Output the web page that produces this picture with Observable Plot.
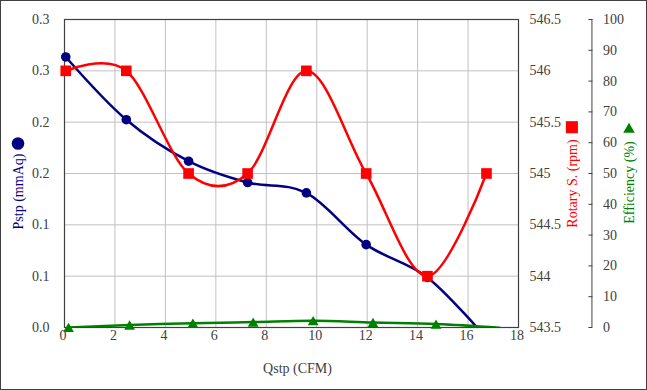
<!DOCTYPE html>
<html>
<head>
<meta charset="utf-8">
<script src="https://cdn.jsdelivr.net/npm/d3@7"></script>
<script src="https://cdn.jsdelivr.net/npm/@observablehq/plot@0.6"></script>
<style>
  html, body { margin: 0; padding: 0; background: #fff; }
  #chart { width: 647px; height: 390px; }
  #chart svg text { font-family: "Liberation Serif", "DejaVu Serif", serif; font-variant-numeric: normal; }
</style>
</head>
<body>
<div id="chart"></div>
<script>
// ---- data ----
const qstp = [0.05, 2.45, 4.92, 7.26, 9.59, 11.96, 14.39, 16.73];
const pstp = [0.2635, 0.2024, 0.1620, 0.1412, 0.1311, 0.0807, 0.0488, -0.0105];
const rotary = [546, 546, 545, 545, 546, 545, 544, 545];
const qEff = [0.16, 2.58, 5.09, 7.48, 9.86, 12.23, 14.73, 17.25];
const efficiency = [0, 0.8, 1.4, 1.75, 2.2, 1.6, 1.1, -0.1];

const xTicks = [0, 2, 4, 6, 8, 10, 12, 14, 16, 18];
const pstpTicks = [0, 0.05, 0.1, 0.15, 0.2, 0.25, 0.3];
const pstpTickLabels = ["0.0", "0.1", "0.1", "0.2", "0.2", "0.3", "0.3"];
const rpmTicks = [543.5, 544, 544.5, 545, 545.5, 546, 546.5];
const rpmTickLabels = ["543.5", "544", "544.5", "545", "545.5", "546", "546.5"];
const effTicks = [0, 10, 20, 30, 40, 50, 60, 70, 80, 90, 100];
const effTickLabels = ["0", "10", "20", "30", "40", "50", "60", "70", "80", "90", "100"];

const titles = {x: "Qstp (CFM)", pstp: "Pstp (mmAq)", rpm: "Rotary S. (rpm)", eff: "Efficiency (%)"};

// ---- map secondary axes onto the primary y domain ----
const yMax = 0.3;
const rpmMin = 543.5, rpmMax = 546.5;
const effMin = 0, effMax = 100;
const fromRpm = r => (r - rpmMin) / (rpmMax - rpmMin) * yMax;
const fromEff = e => (e - effMin) / (effMax - effMin) * yMax;

const pstpData = qstp.map((q, i) => ({q, v: pstp[i]}));
const rpmData = qstp.map((q, i) => ({q, v: fromRpm(rotary[i])}));
const effData = qEff.map((q, i) => ({q, v: fromEff(efficiency[i])}));

const rpmTicksY = rpmTicks.map(fromRpm);
const effTicksY = effTicks.map(fromEff);

const BLUE = "#000080", RED = "#ff0000", GREEN = "#008000";
const TXT = "#404040";
const FONT = "'Liberation Serif', 'DejaVu Serif', serif";

const chart = Plot.plot({
  width: 647,
  height: 390,
  marginLeft: 64,
  marginRight: 129,
  marginTop: 19,
  marginBottom: 63,
  style: {fontFamily: FONT, fontSize: "14px", color: TXT, background: "#fff"},
  x: {domain: [0, 18]},
  y: {domain: [0, yMax]},
  marks: [
    Plot.gridX(xTicks, {stroke: "#c0c0c0", strokeOpacity: 1}),
    Plot.gridY(pstpTicks, {stroke: "#c0c0c0", strokeOpacity: 1}),
    Plot.frame({stroke: "#404040", strokeWidth: 1.2}),
    Plot.axisX(xTicks, {anchor: "bottom", tickSize: 0, tickPadding: 3, dx: -1.5, label: null, fontSize: 14, fontFamily: FONT, fill: TXT}),
    Plot.axisY(pstpTicks, {anchor: "left", tickSize: 0, tickPadding: 15, label: null, fontSize: 14, fontFamily: FONT, fill: TXT,
      tickFormat: d => pstpTickLabels[pstpTicks.indexOf(d)]}),
    Plot.axisY(rpmTicksY, {anchor: "right", tickSize: 0, tickPadding: 11, label: null, fontSize: 14, fontFamily: FONT, fill: TXT,
      tickFormat: d => rpmTickLabels[rpmTicksY.indexOf(d)]}),
    Plot.ruleX([18], {dx: 73.4, stroke: "#808080", strokeWidth: 1.5}),
    Plot.axisY(effTicksY, {anchor: "right", tickSize: 4, tickPadding: 11, dx: 69.4, label: null, fontSize: 14, fontFamily: FONT, fill: TXT, stroke: "#404040",
      tickFormat: d => effTickLabels[effTicksY.indexOf(d)]}),

    // Pstp
    Plot.line(pstpData, {x: "q", y: "v", stroke: BLUE, strokeWidth: 2.5, curve: "cardinal", clip: true}),
    Plot.dot(pstpData.filter(d => d.v >= 0), {x: "q", y: "v", r: 4.8, fill: BLUE, symbol: "circle"}),
    // Rotary speed
    Plot.line(rpmData, {x: "q", y: "v", stroke: RED, strokeWidth: 2.5, curve: "cardinal", clip: true}),
    Plot.dot(rpmData, {x: "q", y: "v", r: 6, fill: RED, symbol: "square"}),
    // Efficiency
    Plot.line(effData, {x: "q", y: "v", stroke: GREEN, strokeWidth: 2.5, curve: "cardinal", clip: true}),
    Plot.dot(effData.filter(d => d.v >= 0), {x: "q", y: "v", r: 4, dy: 1.5, fill: GREEN, symbol: "triangle"}),

    // axis titles
    Plot.text([titles.x], {text: d => d, frameAnchor: "bottom", dx: 6, dy: 41, fill: TXT, fontSize: 14, fontFamily: FONT, lineAnchor: "middle"}),
    Plot.text([titles.pstp], {text: d => d, frameAnchor: "left", dx: -46, dy: 18, rotate: -90, textAnchor: "middle", fill: BLUE, fontSize: 14, fontFamily: FONT}),
    Plot.dot([titles.pstp], {frameAnchor: "left", dx: -46.5, dy: -30, r: 6.3, fill: BLUE, symbol: "circle"}),
    Plot.text([titles.rpm], {text: d => d, frameAnchor: "right", dx: 54.4, dy: 10, rotate: -90, textAnchor: "middle", fill: RED, fontSize: 14, fontFamily: FONT}),
    Plot.dot([titles.rpm], {frameAnchor: "right", dx: 53.4, dy: -46.3, r: 6.8, fill: RED, symbol: "square"}),
    Plot.text([titles.eff], {text: d => d, frameAnchor: "right", dx: 110.7, dy: 9, rotate: -90, textAnchor: "middle", fill: GREEN, fontSize: 14, fontFamily: FONT}),
    Plot.dot([titles.eff], {frameAnchor: "right", dx: 110.5, dy: -44, r: 4.3, fill: GREEN, symbol: "triangle"})
  ]
});

// outer chart-area border
d3.select(chart).append("rect")
  .attr("x", 0.5).attr("y", 0.5).attr("width", 646).attr("height", 389)
  .attr("fill", "none").attr("stroke", "#404040").attr("stroke-width", 1);

document.getElementById("chart").appendChild(chart);
</script>
</body>
</html>
